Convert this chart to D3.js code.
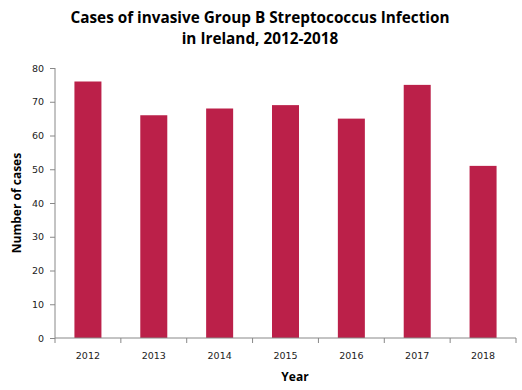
<!DOCTYPE html>
<html><head><meta charset="utf-8">
<script src="https://cdn.jsdelivr.net/npm/d3@7/dist/d3.min.js"></script>
<style>body{margin:0;background:#fff}</style>
</head><body>
<script>
const years = ["2012","2013","2014","2015","2016","2017","2018"];
const cases = [76, 66, 68, 69, 65, 75, 51];
const yTicks = [0,10,20,30,40,50,60,70,80];

const W = 522, H = 390;
const m = {left: 55, right: 6, top: 68, bottom: 52};
const svg = d3.select("body").append("svg").attr("width", W).attr("height", H);

const x = d3.scaleBand().domain(years).range([m.left, W - m.right]).paddingInner(0.59).paddingOuter(0.295);
const y = d3.scaleLinear().domain([0, 80]).range([H - m.bottom, m.top]);

svg.selectAll("rect.bar").data(cases).enter().append("rect")
  .attr("class","bar")
  .attr("x", (d,i) => x(years[i]))
  .attr("width", x.bandwidth())
  .attr("y", d => y(d))
  .attr("height", d => y(0) - y(d))
  .attr("fill", "#bb2049");

const yAxis = svg.append("g").attr("transform", `translate(${m.left},0)`)
  .call(d3.axisLeft(y).tickValues(yTicks).tickSize(5).tickPadding(6));
yAxis.selectAll("text").attr("font-family","DejaVu Sans").attr("font-size", 9.5).attr("fill","#222");

// x axis with ticks at band boundaries
const xg = svg.append("g").attr("transform", `translate(0,${y(0)})`);
xg.append("line").attr("x1", m.left).attr("x2", W - m.right).attr("stroke","#888");
const bounds = d3.range(years.length + 1).map(i => m.left + i * (W - m.right - m.left) / years.length);
xg.selectAll("line.t").data(bounds).enter().append("line").attr("class","t")
  .attr("x1", d => d).attr("x2", d => d).attr("y1", 0).attr("y2", 5).attr("stroke","#888");
xg.selectAll("text").data(years).enter().append("text")
  .attr("x", d => x(d) + x.bandwidth()/2).attr("y", 21)
  .attr("text-anchor","middle").attr("font-family","DejaVu Sans").attr("font-size", 9.5).attr("fill","#222")
  .text(d => d);

yAxis.selectAll("line, path").attr("stroke","#888");
yAxis.select("path").attr("d", `M0,${m.top}V${y(0)}`);

svg.append("text").attr("x", 260).attr("y", 23).attr("text-anchor","middle")
  .attr("font-family","Open Sans").attr("font-weight","bold").attr("font-size", 15.3).attr("fill","#000")
  .text("Cases of invasive Group B Streptococcus Infection");
svg.append("text").attr("x", 260).attr("y", 44).attr("text-anchor","middle")
  .attr("font-family","Open Sans").attr("font-weight","bold").attr("font-size", 15.3).attr("fill","#000")
  .text("in Ireland, 2012-2018");

svg.append("text").attr("transform", "translate(21,203) rotate(-90)").attr("text-anchor","middle")
  .attr("font-family","Open Sans").attr("font-weight","bold").attr("font-size", 12).attr("fill","#000")
  .text("Number of cases");
svg.append("text").attr("x", 295).attr("y", 381).attr("text-anchor","middle")
  .attr("font-family","Open Sans").attr("font-weight","bold").attr("font-size", 12).attr("fill","#000")
  .text("Year");
</script>
</body></html>
